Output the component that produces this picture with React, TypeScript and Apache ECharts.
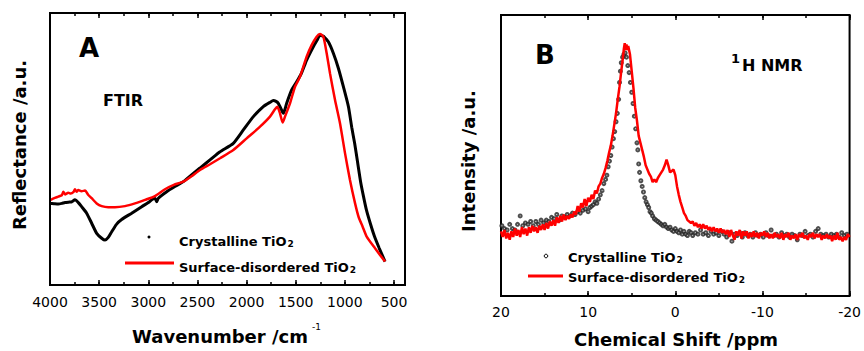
import React, { useEffect, useRef } from 'react';
import * as echarts from 'echarts';

// FTIR (panel A): [wavenumber cm^-1, reflectance a.u.]
const ftirCrystalline: [number, number][] = [
  [4000, 30.0], [3960, 29.9], [3915, 29.8], [3880, 30.0], [3847, 30.3], [3800, 30.5], [3779, 30.6],
  [3746, 31.3], [3712, 30.3], [3678, 28.8], [3627, 26.4], [3576, 22.7], [3525, 19.0], [3474, 17.2],
  [3440, 16.5], [3407, 17.5], [3372, 19.6], [3322, 22.4], [3271, 24.1], [3169, 26.4], [3067, 28.8],
  [3000, 30.3], [2965, 31.3], [2932, 31.9], [2915, 30.6], [2898, 31.9], [2813, 34.3], [2730, 36.2],
  [2644, 38.0], [2560, 40.5], [2474, 43.0], [2372, 46.0], [2270, 49.0], [2135, 52.1], [2033, 57.0],
  [1931, 61.9], [1830, 65.6], [1760, 67.2], [1728, 67.8], [1700, 67.5], [1677, 66.8], [1650, 64.8],
  [1626, 63.1], [1610, 64.5], [1592, 66.8], [1541, 71.7], [1490, 74.7], [1440, 78.0], [1389, 82.7],
  [1321, 87.6], [1280, 90.2], [1253, 91.9], [1230, 91.6], [1219, 91.5], [1168, 89.4], [1117, 85.2],
  [1066, 79.7], [1015, 72.9], [964, 65.6], [930, 58.0], [900, 52.0], [870, 45.0], [840, 38.0],
  [810, 32.5], [780, 27.5], [740, 22.5], [700, 18.0], [650, 13.5], [591, 8.6],
];
const ftirDisordered: [number, number][] = [
  [4000, 31.2], [3983, 31.5], [3950, 32.0], [3915, 32.5], [3880, 33.0], [3864, 34.3], [3847, 33.3],
  [3814, 33.9], [3790, 33.6], [3760, 34.2], [3746, 35.2], [3729, 34.3], [3712, 34.9], [3680, 34.5],
  [3644, 34.7], [3610, 33.1], [3576, 31.9], [3525, 30.0], [3474, 29.0], [3407, 28.6], [3339, 28.6],
  [3237, 29.0], [3135, 30.0], [3033, 31.3], [2932, 32.7], [2830, 35.2], [2740, 36.8], [2644, 38.0],
  [2560, 40.0], [2474, 42.3], [2372, 44.4], [2270, 46.6], [2135, 49.6], [1999, 53.9], [1863, 58.2],
  [1762, 61.9], [1711, 64.6], [1687, 65.5], [1660, 63.1], [1633, 59.7], [1609, 61.9], [1558, 66.8],
  [1507, 72.9], [1456, 76.6], [1389, 83.9], [1338, 88.2], [1287, 91.3], [1253, 92.3], [1219, 91.3],
  [1185, 85.2], [1151, 77.8], [1100, 68.0], [1049, 59.4], [998, 48.4], [948, 38.6], [896, 30.0],
  [860, 25.0], [820, 21.5], [778, 17.8], [693, 13.5], [591, 8.6],
];

// 1H NMR (panel B): [chemical shift ppm, intensity a.u.]
const nmrCrystalline: [number, number][] = [
  [19.9, 25], [19.6, 24], [19.3, 23.5], [19.0, 25.5], [18.7, 24], [18.4, 23.5], [18.1, 25.5], [17.8, 28.5],
  [17.5, 25], [17.2, 26], [16.9, 25.5], [16.6, 26.5], [16.3, 25], [16.0, 26.5], [15.7, 25.5], [15.4, 27],
  [15.1, 26], [14.8, 27], [14.5, 26.5], [14.2, 28], [13.9, 27.5], [13.6, 29], [13.3, 27], [13.0, 28.5],
  [12.7, 28], [12.4, 29], [12.1, 28.5], [11.8, 29.5], [11.5, 29], [11.2, 30], [10.9, 29.5], [10.6, 30.5],
  [10.3, 31], [10.0, 30], [9.8, 31.5], [9.6, 32], [9.4, 32.5], [9.2, 33.5], [9.0, 33], [8.8, 34.5],
  [8.6, 36], [8.4, 37.5], [8.2, 40], [8.0, 41.5], [7.85, 43], [7.7, 46], [7.55, 48], [7.4, 50],
  [7.25, 53], [7.1, 56], [6.95, 58.5], [6.8, 62], [6.65, 65], [6.5, 70], [6.4, 76], [6.3, 80],
  [6.2, 83], [6.05, 85], [5.9, 86], [5.75, 86.5], [5.6, 85], [5.45, 82], [5.3, 79.5], [5.15, 76],
  [5.0, 72.5], [4.85, 68.5], [4.7, 64], [4.55, 59.5], [4.4, 54.5], [4.3, 52], [4.2, 47], [4.1, 44],
  [3.95, 41], [3.8, 39], [3.65, 37], [3.5, 35], [3.35, 33.5], [3.2, 32.5], [3.05, 31.5], [2.9, 30],
  [2.75, 29.5], [2.6, 28.5], [2.4, 27.5], [2.2, 27], [2.0, 26.5], [1.8, 26], [1.6, 25.5], [1.4, 25],
  [1.2, 25.5], [1.0, 24.5], [0.8, 24], [0.6, 24.5], [0.4, 23.5], [0.2, 23], [0.0, 24], [-0.2, 23],
  [-0.4, 22.5], [-0.6, 23.5], [-0.8, 22], [-1.0, 23], [-1.2, 22], [-1.4, 21.5], [-1.6, 23], [-1.8, 22.5],
  [-2.0, 21.5], [-2.3, 22.5], [-2.6, 22], [-2.9, 23.5], [-3.2, 22], [-3.5, 22.5], [-3.8, 21.5], [-4.1, 23],
  [-4.4, 22], [-4.7, 22.5], [-5.0, 21.5], [-5.3, 23], [-5.6, 22], [-5.9, 21], [-6.2, 22.5], [-6.5, 19.5],
  [-6.8, 22], [-7.1, 21.5], [-7.4, 22.5], [-7.7, 21], [-8.0, 22.5], [-8.3, 21.5], [-8.6, 22], [-8.9, 21],
  [-9.2, 22.5], [-9.5, 21.5], [-9.8, 22], [-10.1, 21], [-10.4, 22.5], [-10.7, 21.5], [-11.0, 23.5], [-11.3, 21.5],
  [-11.6, 22], [-11.9, 21], [-12.2, 22.5], [-12.5, 21.5], [-12.8, 22], [-13.1, 21], [-13.4, 22], [-13.7, 21.5],
  [-14.0, 20], [-14.3, 22], [-14.6, 21.5], [-14.9, 23], [-15.2, 21.5], [-15.5, 22], [-15.8, 21], [-16.1, 23],
  [-16.4, 24], [-16.7, 22], [-17.0, 21.5], [-17.3, 22], [-17.6, 21], [-17.9, 22], [-18.2, 21.5], [-18.5, 22],
  [-18.8, 21], [-19.1, 22.5], [-19.4, 21.5], [-19.7, 22],
];
const nmrDisordered: [number, number][] = [
  [20, 23], [19.8, 21], [19.6, 23.5], [19.4, 20.5], [19.2, 22.5], [19.0, 20], [18.8, 23], [18.6, 21],
  [18.4, 24], [18.2, 21.5], [18.0, 23.5], [17.8, 21], [17.6, 24.5], [17.4, 22], [17.2, 24], [17.0, 21.5],
  [16.8, 24.5], [16.6, 22.5], [16.4, 25], [16.2, 23], [16.0, 24.5], [15.8, 22.5], [15.6, 25], [15.4, 23.5],
  [15.2, 25.5], [15.0, 23.5], [14.8, 26], [14.6, 24], [14.4, 26.5], [14.2, 25], [14.0, 27], [13.8, 25],
  [13.6, 28], [13.4, 26], [13.2, 28.5], [13.0, 26.5], [12.8, 29], [12.6, 27], [12.4, 28.5], [12.2, 27.5],
  [12.0, 29], [11.8, 28], [11.6, 30], [11.4, 29], [11.2, 32], [11.0, 30], [10.8, 33], [10.6, 31.5],
  [10.4, 34.5], [10.2, 32], [10.0, 35], [9.8, 33.5], [9.6, 36], [9.4, 34.5], [9.2, 37.5], [9.0, 36.5],
  [8.8, 39], [8.6, 40], [8.4, 42], [8.2, 43.5], [8.0, 45.5], [7.8, 48], [7.6, 51], [7.4, 53.5],
  [7.2, 57], [7.0, 61], [6.8, 65], [6.6, 70], [6.4, 74.5], [6.2, 80], [6.0, 85], [5.9, 88],
  [5.8, 90], [5.7, 87.5], [5.6, 89.5], [5.5, 87.5], [5.4, 89], [5.2, 86], [5.0, 80], [4.8, 74],
  [4.6, 67], [4.4, 62.5], [4.2, 57], [4.0, 54.5], [3.8, 52], [3.6, 49.5], [3.4, 46.5], [3.2, 45],
  [3.0, 43.5], [2.8, 42.5], [2.6, 40.5], [2.4, 41.5], [2.2, 40.5], [2.0, 42], [1.8, 43], [1.6, 44],
  [1.4, 45], [1.2, 46.5], [1.0, 48.5], [0.8, 46.5], [0.6, 44], [0.4, 44.5], [0.2, 45], [0.0, 43],
  [-0.2, 39], [-0.4, 36], [-0.6, 33.5], [-0.8, 31.5], [-1.0, 29.5], [-1.2, 28.5], [-1.4, 27], [-1.6, 26.5],
  [-1.8, 26], [-2.0, 26.5], [-2.2, 25], [-2.4, 26], [-2.6, 24.5], [-2.8, 25.5], [-3.0, 24], [-3.2, 25.5],
  [-3.4, 24], [-3.6, 25], [-3.8, 23.5], [-4.0, 24.5], [-4.2, 23], [-4.4, 24.5], [-4.6, 23], [-4.8, 24],
  [-5.0, 22.5], [-5.2, 24], [-5.4, 22.5], [-5.6, 23.5], [-5.8, 22], [-6.0, 23.5], [-6.2, 21], [-6.4, 23.5],
  [-6.6, 21.5], [-6.8, 20], [-7.0, 23], [-7.2, 21.5], [-7.4, 23.5], [-7.6, 20.5], [-7.8, 23], [-8.0, 21.5],
  [-8.2, 23], [-8.4, 20.5], [-8.6, 22.5], [-8.8, 21], [-9.0, 23], [-9.2, 21], [-9.4, 22.5], [-9.6, 20.5],
  [-9.8, 22.5], [-10.0, 21.5], [-10.2, 23], [-10.4, 21], [-10.6, 22.5], [-10.8, 20.5], [-11.0, 22], [-11.2, 20.5],
  [-11.4, 22.5], [-11.6, 21], [-11.8, 22], [-12.0, 20.5], [-12.2, 22.5], [-12.4, 20], [-12.6, 22], [-12.8, 21],
  [-13.0, 22.5], [-13.2, 20], [-13.4, 21.5], [-13.6, 20.5], [-13.8, 22], [-14.0, 20], [-14.2, 22], [-14.4, 21],
  [-14.6, 22.5], [-14.8, 20.5], [-15.0, 21.5], [-15.2, 20], [-15.4, 22], [-15.6, 21], [-15.8, 22.5], [-16.0, 20.5],
  [-16.2, 22], [-16.4, 21], [-16.6, 22], [-16.8, 20], [-17.0, 21.5], [-17.2, 20.5], [-17.4, 22], [-17.6, 20.5],
  [-17.8, 21.5], [-18.0, 19.5], [-18.2, 21.5], [-18.4, 20], [-18.6, 22.5], [-18.8, 20], [-19.0, 21], [-19.2, 19.5],
  [-19.4, 21], [-19.6, 20], [-19.8, 22], [-20.0, 21],
];

const seriesNames = ['Crystalline TiO', 'Surface-disordered TiO'];

const F = '"DejaVu Sans", sans-serif';

function mkX(grid: number, pos: 'top' | 'bottom', min: number, max: number, interval: number, len: number, labels: boolean, margin: number) {
  return {
    type: 'value' as const,
    gridIndex: grid,
    position: pos,
    min,
    max,
    inverse: true,
    interval,
    axisLine: { show: false },
    axisTick: { show: true, inside: true, length: len, lineStyle: { color: '#000', width: 1.5 } },
    splitLine: { show: false },
    axisLabel: {
      show: labels,
      interval: 0,
      margin,
      showMinLabel: true,
      showMaxLabel: true,
      hideOverlap: false,
      color: '#000',
      fontFamily: F,
      fontSize: 14,
      formatter: (v: number) => String(v),
    },
  };
}

function mkY(grid: number) {
  return {
    type: 'value' as const,
    gridIndex: grid,
    min: 0,
    max: 100,
    axisLine: { show: false },
    axisTick: { show: false },
    axisLabel: { show: false },
    splitLine: { show: false },
  };
}

function txt(x: number, y: number, text: string, size: number, opts: any = {}) {
  return {
    type: 'text',
    x,
    y,
    rotation: opts.rotation || 0,
    style: {
      text,
      fontFamily: F,
      fontSize: size,
      fontWeight: opts.weight || 'bold',
      fill: '#000',
      align: opts.align || 'left',
      verticalAlign: 'middle',
    },
  };
}

function legendText(x: number, y: number, name: string) {
  return {
    type: 'text',
    x,
    y,
    style: {
      text: `{m|${name}}{s|2}`,
      align: 'left',
      verticalAlign: 'middle',
      rich: {
        m: { fontFamily: F, fontSize: 13, fontWeight: 'bold', fill: '#000' },
        s: { fontFamily: F, fontSize: 9, fontWeight: 'bold', fill: '#000', padding: [5, 0, 0, 1] },
      },
    },
  };
}

export default function App() {
  const ref = useRef<HTMLDivElement>(null);
  useEffect(() => {
    const chart = echarts.init(ref.current!, null, { renderer: 'svg' });
    const option: any = {
      animation: false,
      backgroundColor: '#fff',
      grid: [
        // panel A: plotting area spans 4000 -> 500; the frame (drawn below) extends a little further right
        { left: 50, top: 13, width: 344, height: 272, show: false },
        { left: 501, top: 15, width: 354, height: 281, show: true, borderColor: '#000', borderWidth: 2 },
      ],
      xAxis: [
        mkX(0, 'bottom', 500, 4000, 500, 5, true, 10),
        mkX(0, 'bottom', 500, 4000, 250, 3, false, 10),
        mkX(0, 'top', 500, 4000, 500, 5, false, 10),
        mkX(0, 'top', 500, 4000, 250, 3, false, 10),
        mkX(1, 'bottom', -20, 20, 10, 5, true, 9),
        mkX(1, 'bottom', -20, 20, 5, 3, false, 9),
        mkX(1, 'top', -20, 20, 10, 5, false, 9),
        mkX(1, 'top', -20, 20, 5, 3, false, 9),
      ],
      yAxis: [mkY(0), mkY(1)],
      series: [
        {
          name: seriesNames[0] + '2 FTIR',
          type: 'line',
          xAxisIndex: 0,
          yAxisIndex: 0,
          data: ftirCrystalline,
          showSymbol: false,
          smooth: 0.2,
          lineStyle: { color: '#000', width: 3 },
        },
        {
          name: seriesNames[1] + '2 FTIR',
          type: 'line',
          xAxisIndex: 0,
          yAxisIndex: 0,
          data: ftirDisordered,
          showSymbol: false,
          smooth: 0.2,
          lineStyle: { color: '#ff0000', width: 2.5 },
        },
        {
          name: seriesNames[1] + '2 NMR',
          type: 'line',
          xAxisIndex: 4,
          yAxisIndex: 1,
          data: nmrDisordered,
          showSymbol: false,
          lineStyle: { color: '#ff0000', width: 2.5 },
        },
        {
          name: seriesNames[0] + '2 NMR',
          type: 'scatter',
          xAxisIndex: 4,
          yAxisIndex: 1,
          data: nmrCrystalline,
          symbol: 'emptyCircle',
          symbolSize: 3,
          itemStyle: { color: '#222', borderColor: '#222', borderWidth: 0.9 },
        },
      ],
      graphic: [
        { type: 'rect', shape: { x: 50, y: 13, width: 355, height: 272 }, style: { fill: 'none', stroke: '#000', lineWidth: 2 }, z: 10 },
        txt(89, 48, 'A', 26, { align: 'center' }),
        txt(103, 100, 'FTIR', 16),
        txt(19, 145, 'Reflectance /a.u.', 18, { align: 'center', rotation: Math.PI / 2 }),
        txt(220, 336, 'Wavenumber /cm', 18, { align: 'center' }),
        txt(312, 327, '-1', 9, { weight: 'normal' }),
        { type: 'circle', shape: { cx: 149, cy: 237, r: 1.5 }, style: { fill: '#000' } },
        legendText(179, 241, seriesNames[0]),
        { type: 'line', shape: { x1: 125, y1: 263, x2: 174, y2: 263 }, style: { stroke: '#ff0000', lineWidth: 3 } },
        legendText(179, 267, seriesNames[1]),

        txt(545, 55, 'B', 26, { align: 'center' }),
        txt(731, 58, '1', 13),
        txt(742, 65, 'H NMR', 16),
        txt(468, 161, 'Intensity /a.u.', 18, { align: 'center', rotation: Math.PI / 2 }),
        txt(676, 339, 'Chemical Shift /ppm', 18, { align: 'center' }),
        { type: 'circle', shape: { cx: 546, cy: 256, r: 1.8 }, style: { fill: '#fff', stroke: '#000', lineWidth: 1 } },
        legendText(568, 257, seriesNames[0]),
        { type: 'line', shape: { x1: 528, y1: 276, x2: 563, y2: 276 }, style: { stroke: '#ff0000', lineWidth: 3 } },
        legendText(568, 277, seriesNames[1]),
      ],
    };
    chart.setOption(option);
    return () => chart.dispose();
  }, []);
  return <div ref={ref} style={{ position: 'absolute', left: 0, top: 0, width: 864, height: 351 }} />;
}
